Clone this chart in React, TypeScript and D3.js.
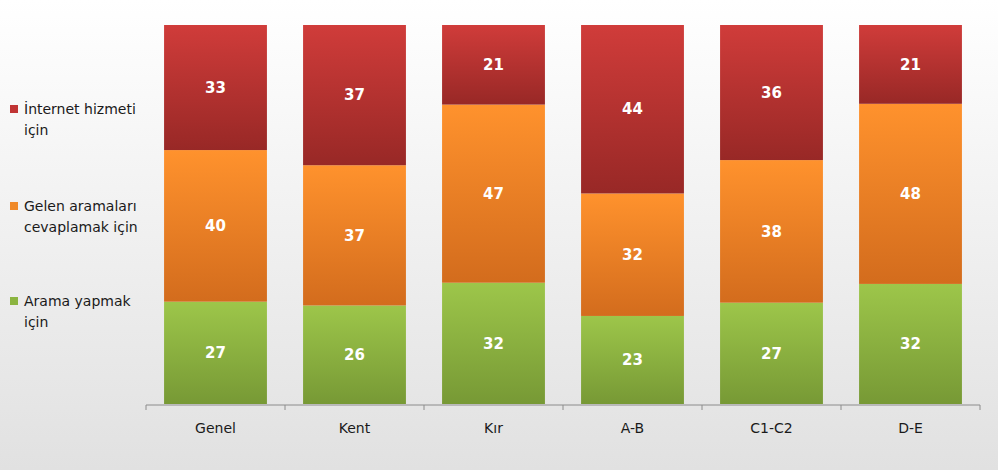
import React, { useRef, useEffect } from 'react';
import * as d3 from 'd3';

const categories = ['Genel', 'Kent', 'Kır', 'A-B', 'C1-C2', 'D-E'];
const aramaYapmak = [27, 26, 32, 23, 27, 32];
const gelenAramalar = [40, 37, 47, 32, 38, 48];
const internetHizmeti = [33, 37, 21, 44, 36, 21];

const seriesNames = [
  ['Arama yapmak', 'için'],
  ['Gelen aramaları', 'cevaplamak için'],
  ['İnternet hizmeti', 'için'],
];
const seriesValues = [aramaYapmak, gelenAramalar, internetHizmeti];
const gradients = [
  ['#9dc64a', '#779935'],
  ['#ff922d', '#d36c1d'],
  ['#d03c3a', '#982826'],
];
const legendColors = ['#8bb440', '#f08a2a', '#c03434'];

const App = () => {
  const ref = useRef<SVGSVGElement>(null);

  useEffect(() => {
    const svg = d3.select(ref.current);
    svg.selectAll('*').remove();

    const width = 998;
    const height = 470;
    const margin = { top: 25, right: 18, bottom: 65, left: 146 };

    const defs = svg.append('defs');
    const bg = defs.append('linearGradient').attr('id', 'bg')
      .attr('x1', 0).attr('y1', 0).attr('x2', 0).attr('y2', 1);
    bg.append('stop').attr('offset', '0%').attr('stop-color', '#ffffff');
    bg.append('stop').attr('offset', '100%').attr('stop-color', '#e1e1e1');

    gradients.forEach((g, i) => {
      const lg = defs.append('linearGradient').attr('id', `g${i}`)
        .attr('x1', 0).attr('y1', 0).attr('x2', 0).attr('y2', 1);
      lg.append('stop').attr('offset', '0%').attr('stop-color', g[0]);
      lg.append('stop').attr('offset', '100%').attr('stop-color', g[1]);
    });

    svg.append('rect').attr('width', width).attr('height', height).attr('fill', 'url(#bg)');

    const x = d3.scaleBand()
      .domain(categories)
      .range([margin.left, width - margin.right])
      .paddingInner(0.26)
      .paddingOuter(0.13);

    const y = d3.scaleLinear()
      .domain([0, 1])
      .range([height - margin.bottom - 1, margin.top]);

    const rows = categories.map((c, i) => {
      const row: any = { cat: c };
      seriesValues.forEach((s, j) => { row[`s${j}`] = s[i]; });
      return row;
    });
    const stack = d3.stack<any>()
      .keys(['s0', 's1', 's2'])
      .offset(d3.stackOffsetExpand);
    const stacked = stack(rows);

    const layers = svg.append('g')
      .selectAll('g')
      .data(stacked)
      .join('g')
      .attr('fill', (d, i) => `url(#g${i})`);

    layers.selectAll('rect')
      .data(d => d)
      .join('rect')
      .attr('x', d => x(d.data.cat)!)
      .attr('y', d => y(d[1]))
      .attr('height', d => y(d[0]) - y(d[1]))
      .attr('width', x.bandwidth());

    layers.selectAll('text')
      .data((d, i) => d.map((p, k) => ({ p, v: seriesValues[i][k] })))
      .join('text')
      .attr('x', d => x(d.p.data.cat)! + x.bandwidth() / 2)
      .attr('y', d => (y(d.p[0]) + y(d.p[1])) / 2)
      .attr('dy', '0.35em')
      .attr('text-anchor', 'middle')
      .attr('fill', '#ffffff')
      .style('font-family', 'DejaVu Sans, sans-serif')
      .style('font-weight', 'bold')
      .style('font-size', '15px')
      .text(d => d.v);

    // x axis with ticks at category boundaries
    const axisY = height - margin.bottom;
    const ax = svg.append('g');
    const step = x.step();
    ax.append('line')
      .attr('x1', margin.left).attr('x2', width - margin.right)
      .attr('y1', axisY).attr('y2', axisY)
      .attr('stroke', '#8c8c8c');
    d3.range(categories.length + 1).forEach(i => {
      const tx = margin.left + i * step;
      ax.append('line')
        .attr('x1', tx).attr('x2', tx)
        .attr('y1', axisY).attr('y2', axisY + 5)
        .attr('stroke', '#8c8c8c');
    });
    ax.selectAll('text.cat')
      .data(categories)
      .join('text')
      .attr('x', d => x(d)! + x.bandwidth() / 2)
      .attr('y', axisY + 28)
      .attr('text-anchor', 'middle')
      .attr('fill', '#1a1a1a')
      .style('font-family', 'DejaVu Sans, sans-serif')
      .style('font-size', '14px')
      .text(d => d);

    // legend
    const legendY = [306, 211, 114];
    const lg = svg.append('g');
    seriesNames.forEach((names, i) => {
      lg.append('rect')
        .attr('x', 10).attr('y', legendY[i] - 9)
        .attr('width', 8).attr('height', 8)
        .attr('fill', legendColors[i]);
      names.forEach((n, k) => {
        lg.append('text')
          .attr('x', 24).attr('y', legendY[i] + k * 21)
          .attr('fill', '#1a1a1a')
          .style('font-family', 'DejaVu Sans, sans-serif')
          .style('font-size', '14px')
          .text(n);
      });
    });
  }, []);

  return (
    <svg ref={ref} width={998} height={470}
      style={{ position: 'fixed', left: 0, top: 0, display: 'block' }} />
  );
};

export default App;
